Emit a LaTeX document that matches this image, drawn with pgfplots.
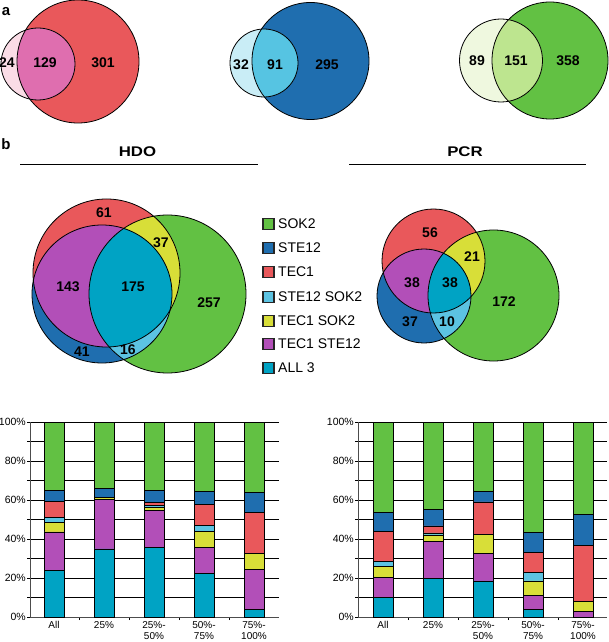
\documentclass[border=0pt]{standalone}
\usepackage{pgfplots}
\pgfplotsset{compat=1.18}
\usepackage{pgfplotstable}
\usepackage{fontspec}
\setmainfont{Liberation Sans}
\newfontfamily\widefont[FakeStretch=1.2]{Liberation Sans}

\definecolor{cSOK}{HTML}{62C143}
\definecolor{cSTE}{HTML}{1F6EAF}
\definecolor{cTEC}{HTML}{E9585B}
\definecolor{cSS}{HTML}{5CC3E2}
\definecolor{cTS}{HTML}{D8DE38}
\definecolor{cTE}{HTML}{B24FB8}
\definecolor{cALL}{HTML}{00A3C4}
\definecolor{pinkL}{HTML}{FADCE6}
\definecolor{pinkO}{HTML}{DF6EAF}
\definecolor{blueL}{HTML}{C9EDF6}
\definecolor{blueO}{HTML}{56C4E2}
\definecolor{greenL}{HTML}{EFF8DF}
\definecolor{greenO}{HTML}{BDE58F}

% HDO stacked percentages (bottom to top)
\pgfplotstableread{
x all te ts ss tec ste sok
0 24.0 19.6 5.1 2.2 8.4 5.6 35.1
1 34.9 25.3 1.2 0.0 0.0 4.4 34.2
2 35.9 18.8 1.7 1.0 1.4 6.2 35.0
3 22.2 13.4 8.5 2.7 10.8 6.7 35.7
4 4.1 20.2 8.2 0.0 21.0 10.4 36.1
}\hdo
% PCR stacked percentages
\pgfplotstableread{
x all te ts ss tec ste sok
0 10.2 10.2 5.6 2.7 15.1 9.9 46.3
1 19.7 19.1 3.3 1.0 3.6 8.3 45.0
2 18.5 14.0 9.7 0.0 16.8 5.6 35.4
3 3.8 7.3 7.4 4.4 10.4 9.9 56.8
4 0.0 2.7 5.3 0.0 28.9 15.9 47.2
}\pcr

\newcommand{\E}[4]{(axis cs:#1,-#2) ellipse [x radius=#3, y radius=#4]}
\newcommand{\num}[3]{\node[font=\fontsize{14}{16}\selectfont\bfseries] at (axis cs:#1,-#2) {#3};}
\newcommand{\leg}[3]{\filldraw[fill=#1, draw=black!85, line width=1.3pt] (axis cs:263,-#2+5.5) rectangle (axis cs:274,-#2-5.5);
  \node[anchor=west, font=\fontsize{14}{16}\selectfont, inner sep=0pt] at (axis cs:278,-#2) {#3};}

\pgfplotsset{barax/.style={
  scale only axis, width=249pt, height=195pt,
  ybar stacked, bar width=20pt,
  ymin=0, ymax=100,
  xtick={0,1,2,3,4},
  xticklabels={All,25\%,{25\%-\\50\%},{50\%-\\75\%},{75\%-\\100\%}},
  xticklabel style={align=center, font=\fontsize{10}{11}\selectfont, inner sep=1pt},
  major x tick style={draw=none},
  minor xtick={0.5,1.5,2.5,3.5},
  minor x tick style={black, line width=0.8pt},
  ytick={0,20,...,100},
  minor ytick={10,30,...,90},
  ymajorgrids, yminorgrids,
  grid style={black, line width=0.7pt},
  minor grid style={black, line width=0.7pt},
  axis lines*=left,
  axis line style={black!70, line width=1pt, -},
  tick align=outside,
  major tick length=3pt, minor tick length=3pt,
  y tick style={black, line width=0.7pt},
  yticklabel={\pgfmathprintnumber{\tick}\%},
  yticklabel style={font=\fontsize{10.5}{12}\selectfont, inner sep=1pt},
  /pgf/number format/assume math mode=true,
  every axis plot/.append style={draw=black, line width=0.6pt},
}}

\begin{document}
\begin{tikzpicture}
\useasboundingbox (0,0) rectangle (609pt,-642pt);
\begin{axis}[at={(0pt,0pt)}, anchor=north west, width=609pt, height=642pt,
  scale only axis, xmin=0, xmax=609, ymin=-642, ymax=0, hide axis, clip=false]
% ---------- panel a ----------
\fill[cTEC] \E{78}{61.5}{61}{61.5};
\fill[pinkL] \E{38}{64}{37}{36};
\begin{scope}\clip \E{38}{64}{37}{36}; \fill[pinkO] \E{78}{61.5}{61}{61.5};\end{scope}
\draw[line width=0.8pt] \E{78}{61.5}{61}{61.5};
\draw[line width=0.8pt] \E{38}{64}{37}{36};
\num{7}{63}{24}\num{45}{63}{129}\num{103}{63}{301}

\fill[cSTE] \E{310.5}{61}{58.5}{58.5};
\fill[blueL] \E{264}{63}{34}{34};
\begin{scope}\clip \E{264}{63}{34}{34}; \fill[blueO] \E{310.5}{61}{58.5}{58.5};\end{scope}
\draw[line width=0.8pt] \E{310.5}{61}{58.5}{58.5};
\draw[line width=0.8pt] \E{264}{63}{34}{34};
\num{241}{65}{32}\num{275}{65}{91}\num{327}{65}{295}

\fill[cSOK] \E{550}{60.5}{58}{58.5};
\fill[greenL] \E{501}{60.5}{41.5}{41.5};
\begin{scope}\clip \E{501}{60.5}{41.5}{41.5}; \fill[greenO] \E{550}{60.5}{58}{58.5};\end{scope}
\draw[line width=0.8pt] \E{550}{60.5}{58}{58.5};
\draw[line width=0.8pt] \E{501}{60.5}{41.5}{41.5};
\num{477}{61}{89}\num{516}{61}{151}\num{568}{61}{358}

\node[font=\fontsize{15}{17}\selectfont\bfseries] at (axis cs:6,-12) {a};
\node[font=\fontsize{15}{17}\selectfont\bfseries] at (axis cs:6,-144) {b};

% ---------- titles ----------
\node[font=\widefont\fontsize{14}{16}\selectfont\bfseries] at (axis cs:137.5,-152) {HDO};
\draw[line width=1pt] (axis cs:20,-165) -- (axis cs:258,-165);
\node[font=\widefont\fontsize{14}{16}\selectfont\bfseries] at (axis cs:465,-152) {PCR};
\draw[line width=1pt] (axis cs:349,-165) -- (axis cs:586,-165);

% ---------- HDO venn ----------
\fill[cSOK] \E{167.5}{294}{78.5}{79};
\fill[cTEC] \E{106.5}{273}{73.5}{74};
\fill[cSTE] \E{102}{294}{70}{69};
\begin{scope}\clip \E{106.5}{273}{73.5}{74}; \fill[cTE] \E{102}{294}{70}{69};\end{scope}
\begin{scope}\clip \E{106.5}{273}{73.5}{74}; \fill[cTS] \E{167.5}{294}{78.5}{79};\end{scope}
\begin{scope}\clip \E{102}{294}{70}{69}; \fill[cSS] \E{167.5}{294}{78.5}{79};\end{scope}
\begin{scope}\clip \E{106.5}{273}{73.5}{74}; \clip \E{102}{294}{70}{69}; \fill[cALL] \E{167.5}{294}{78.5}{79};\end{scope}
\draw[line width=0.8pt] \E{167.5}{294}{78.5}{79};
\draw[line width=0.8pt] \E{106.5}{273}{73.5}{74};
\draw[line width=0.8pt] \E{102}{294}{70}{69};
\num{104}{213}{61}\num{161}{243}{37}\num{68}{287}{143}\num{133}{287}{175}
\num{209}{303}{257}\num{82}{352}{41}\num{128}{350}{16}

% ---------- legend ----------
\leg{cSOK}{224}{SOK2}
\leg{cSTE}{248}{STE12}
\leg{cTEC}{272}{TEC1}
\leg{cSS}{297}{STE12 SOK2}
\leg{cTS}{321}{TEC1 SOK2}
\leg{cTE}{344}{TEC1 STE12}
\leg{cALL}{368}{ALL 3}

% ---------- PCR venn ----------
\fill[cSOK] \E{493.5}{295.5}{65.5}{65.5};
\fill[cTEC] \E{433.5}{261}{51.5}{52};
\fill[cSTE] \E{424}{296}{47}{47};
\begin{scope}\clip \E{433.5}{261}{51.5}{52}; \fill[cTE] \E{424}{296}{47}{47};\end{scope}
\begin{scope}\clip \E{433.5}{261}{51.5}{52}; \fill[cTS] \E{493.5}{295.5}{65.5}{65.5};\end{scope}
\begin{scope}\clip \E{424}{296}{47}{47}; \fill[cSS] \E{493.5}{295.5}{65.5}{65.5};\end{scope}
\begin{scope}\clip \E{433.5}{261}{51.5}{52}; \clip \E{424}{296}{47}{47}; \fill[cALL] \E{493.5}{295.5}{65.5}{65.5};\end{scope}
\draw[line width=0.8pt] \E{493.5}{295.5}{65.5}{65.5};
\draw[line width=0.8pt] \E{433.5}{261}{51.5}{52};
\draw[line width=0.8pt] \E{424}{296}{47}{47};
\num{430}{233}{56}\num{472}{257}{21}\num{412}{283}{38}\num{450}{283}{38}
\num{504}{302}{172}\num{410}{322}{37}\num{447}{322}{10}
\end{axis}

% ---------- HDO bars ----------
\begin{axis}[barax, at={(30pt,-617pt)}, anchor=south west, xmin=-0.48, xmax=4.5]
\addplot[fill=cALL] table[x=x,y=all]{\hdo};
\addplot[fill=cTE] table[x=x,y=te]{\hdo};
\addplot[fill=cTS] table[x=x,y=ts]{\hdo};
\addplot[fill=cSS] table[x=x,y=ss]{\hdo};
\addplot[fill=cTEC] table[x=x,y=tec]{\hdo};
\addplot[fill=cSTE] table[x=x,y=ste]{\hdo};
\addplot[fill=cSOK] table[x=x,y=sok]{\hdo};
\end{axis}

% ---------- PCR bars ----------
\begin{axis}[barax, at={(358pt,-617pt)}, anchor=south west, xmin=-0.5, xmax=4.48]
\addplot[fill=cALL] table[x=x,y=all]{\pcr};
\addplot[fill=cTE] table[x=x,y=te]{\pcr};
\addplot[fill=cTS] table[x=x,y=ts]{\pcr};
\addplot[fill=cSS] table[x=x,y=ss]{\pcr};
\addplot[fill=cTEC] table[x=x,y=tec]{\pcr};
\addplot[fill=cSTE] table[x=x,y=ste]{\pcr};
\addplot[fill=cSOK] table[x=x,y=sok]{\pcr};
\end{axis}
\end{tikzpicture}
\end{document}
